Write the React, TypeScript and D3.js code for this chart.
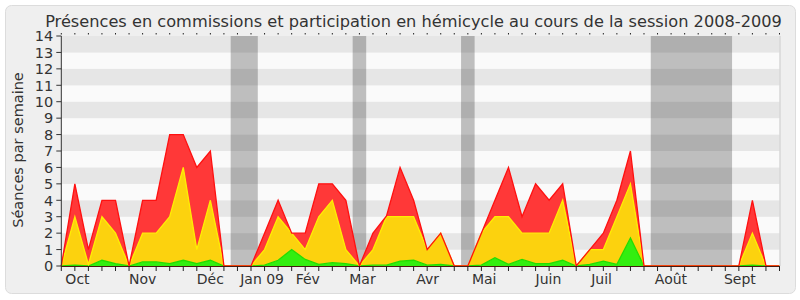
import React from "react";
import * as d3 from "d3";

// Weekly data, index 0..53 (session 2008-2009)
const green: number[] = [
  0, 0.05, 0, 0.35, 0.15, 0, 0.25, 0.25, 0.15, 0.35, 0.15, 0.35, 0, 0, 0, 0.05, 0.35, 1, 0.4, 0.1,
  0.2, 0.15, 0, 0.05, 0.05, 0.3, 0.35, 0.05, 0.1, 0, 0, 0.05, 0.5, 0.1, 0.4, 0.15, 0.15, 0.35, 0, 0.1,
  0.3, 0.1, 1.7, 0, 0, 0, 0, 0, 0, 0, 0, 0.05, 0, 0,
];
const yellow: number[] = [
  0, 2.95, 0.1, 2.65, 1.85, 0, 1.75, 1.75, 2.85, 5.65, 0.85, 3.65, 0, 0, 0, 0.95, 2.65, 1, 0.6, 2.9,
  3.8, 0.85, 0, 0.95, 2.95, 2.7, 2.65, 0.95, 1.9, 0, 0, 1.95, 2.5, 2.9, 1.6, 1.85, 1.85, 3.65, 0, 0.9,
  0.7, 2.9, 3.3, 0, 0, 0, 0, 0, 0, 0, 0, 1.95, 0, 0,
];
const red: number[] = [
  0, 2, 0.9, 1, 2, 0, 2, 2, 5, 2, 5, 3, 0, 0, 0, 1, 1, 0, 1, 2,
  1, 3, 0, 1, 0.05, 3, 1, 0, 0, 0, 0, 0, 1, 3, 1, 3, 2, 1, 0, 0,
  1, 1, 2, 0, 0, 0, 0, 0, 0, 0, 0, 2, 0, 0,
];
const vacations: [number, number][] = [
  [12.5, 14.5],
  [21.5, 22.5],
  [29.5, 30.5],
  [43.5, 49.5],
];
const monthLabels: string[] = ["Oct", "Nov", "Déc", "Jan 09", "Fév", "Mar", "Avr", "Mai", "Juin", "Juil", "Août", "Sept"];
const monthPos: number[] = [0.3, 5.0, 10.0, 13.2, 17.3, 21.25, 26.2, 30.3, 35.0, 39.1, 43.8, 48.9];
const yTicks: number[] = d3.range(0, 15);
const title = "Présences en commissions et participation en hémicycle au cours de la session 2008-2009";
const yTitle = "Séances par semaine";

const W = 800;
const H = 300;
const FONT = "DejaVu Sans, sans-serif";

export default function App() {
  const nWeeks = green.length;
  const x = d3.scaleLinear().domain([0, nWeeks - 1]).range([61.3, 779.5]);
  const y = d3.scaleLinear().domain([0, 14]).range([266, 36]);

  const rows = green.map((g, i) => ({ i, green: g, yellow: yellow[i], red: red[i] }));
  const stack = d3.stack<any>().keys(["green", "yellow", "red"]);
  const series = stack(rows);
  const area = d3
    .area<any>()
    .x((d) => x(d.data.i))
    .y0((d) => y(d[0]))
    .y1((d) => y(d[1]));
  const line = d3
    .line<any>()
    .x((d) => x(d.data.i))
    .y((d) => y(d[1]));

  const fills = ["#33ee10", "#fcd20e", "#ff3838"];
  const strokes = ["#22dd00", "#ffee00", "#ff1010"];

  const weeks = d3.range(0, nWeeks);

  return (
    <svg width={W} height={H} style={{ position: "absolute", left: 0, top: 0 }} fontFamily={FONT}>
      <rect x={0} y={0} width={W} height={H} fill="#ffffff" />
      <rect x={5.5} y={5.5} width={790} height={288} rx={6} fill="#efefef" stroke="#dcdcdc" />
      {/* stripes */}
      {d3.range(0, 14).map((k) => (
        <rect
          key={"s" + k}
          x={x(0)}
          y={y(k + 1)}
          width={x(nWeeks - 1) - x(0)}
          height={y(k) - y(k + 1)}
          fill={k % 2 === 1 ? "#e6e6e6" : "#fafafa"}
        />
      ))}
      {/* vacations */}
      {vacations.map(([a, b], k) => (
        <rect key={"v" + k} x={x(a)} y={y(14)} width={x(b) - x(a)} height={y(0) - y(14)} fill="rgba(0,0,0,0.24)" />
      ))}
      {/* areas */}
      {series.map((s, k) => (
        <path key={"a" + k} d={area(s as any) || ""} fill={fills[k]} />
      ))}
      {series.map((s, k) => (
        <path key={"l" + k} d={line(s as any) || ""} fill="none" stroke={strokes[k]} strokeWidth={1.3} />
      ))}
      {/* right border */}
      <line x1={x(nWeeks - 1) + 0.5} x2={x(nWeeks - 1) + 0.5} y1={y(14)} y2={y(0)} stroke="#cccccc" />
      {/* axes */}
      <line x1={x(0)} x2={x(0)} y1={y(14)} y2={y(0)} stroke="#333" />
      <line x1={x(0)} x2={x(nWeeks - 1)} y1={y(0) + 0.5} y2={y(0) + 0.5} stroke="#4a1a10" />
      {weeks.map((w) => (
        <line key={"tb" + w} x1={x(w)} x2={x(w)} y1={y(0)} y2={y(0) + 5} stroke="#222" />
      ))}
      {weeks.map((w) => (
        <line key={"tt" + w} x1={x(w)} x2={x(w)} y1={y(14) - 3} y2={y(14) - 1.5} stroke="#222" />
      ))}
      {yTicks.map((t) => (
        <g key={"yt" + t}>
          <line x1={x(0) - 5} x2={x(0)} y1={y(t)} y2={y(t)} stroke="#333" />
          <text x={x(0) - 8} y={y(t)} dy="0.36em" textAnchor="end" fontSize={14.5} fill="#333">
            {t}
          </text>
        </g>
      ))}
      {monthLabels.map((m, k) => (
        <text key={"m" + k} x={x(monthPos[k])} y={283.5} fontSize={14} fill="#333">
          {m}
        </text>
      ))}
      <text transform={`translate(23,150) rotate(-90)`} textAnchor="middle" fontSize={14.5} fill="#333">
        {yTitle}
      </text>
      <text x={413.5} y={26.5} textAnchor="middle" fontSize={16.2} fill="#333">
        {title}
      </text>
    </svg>
  );
}
